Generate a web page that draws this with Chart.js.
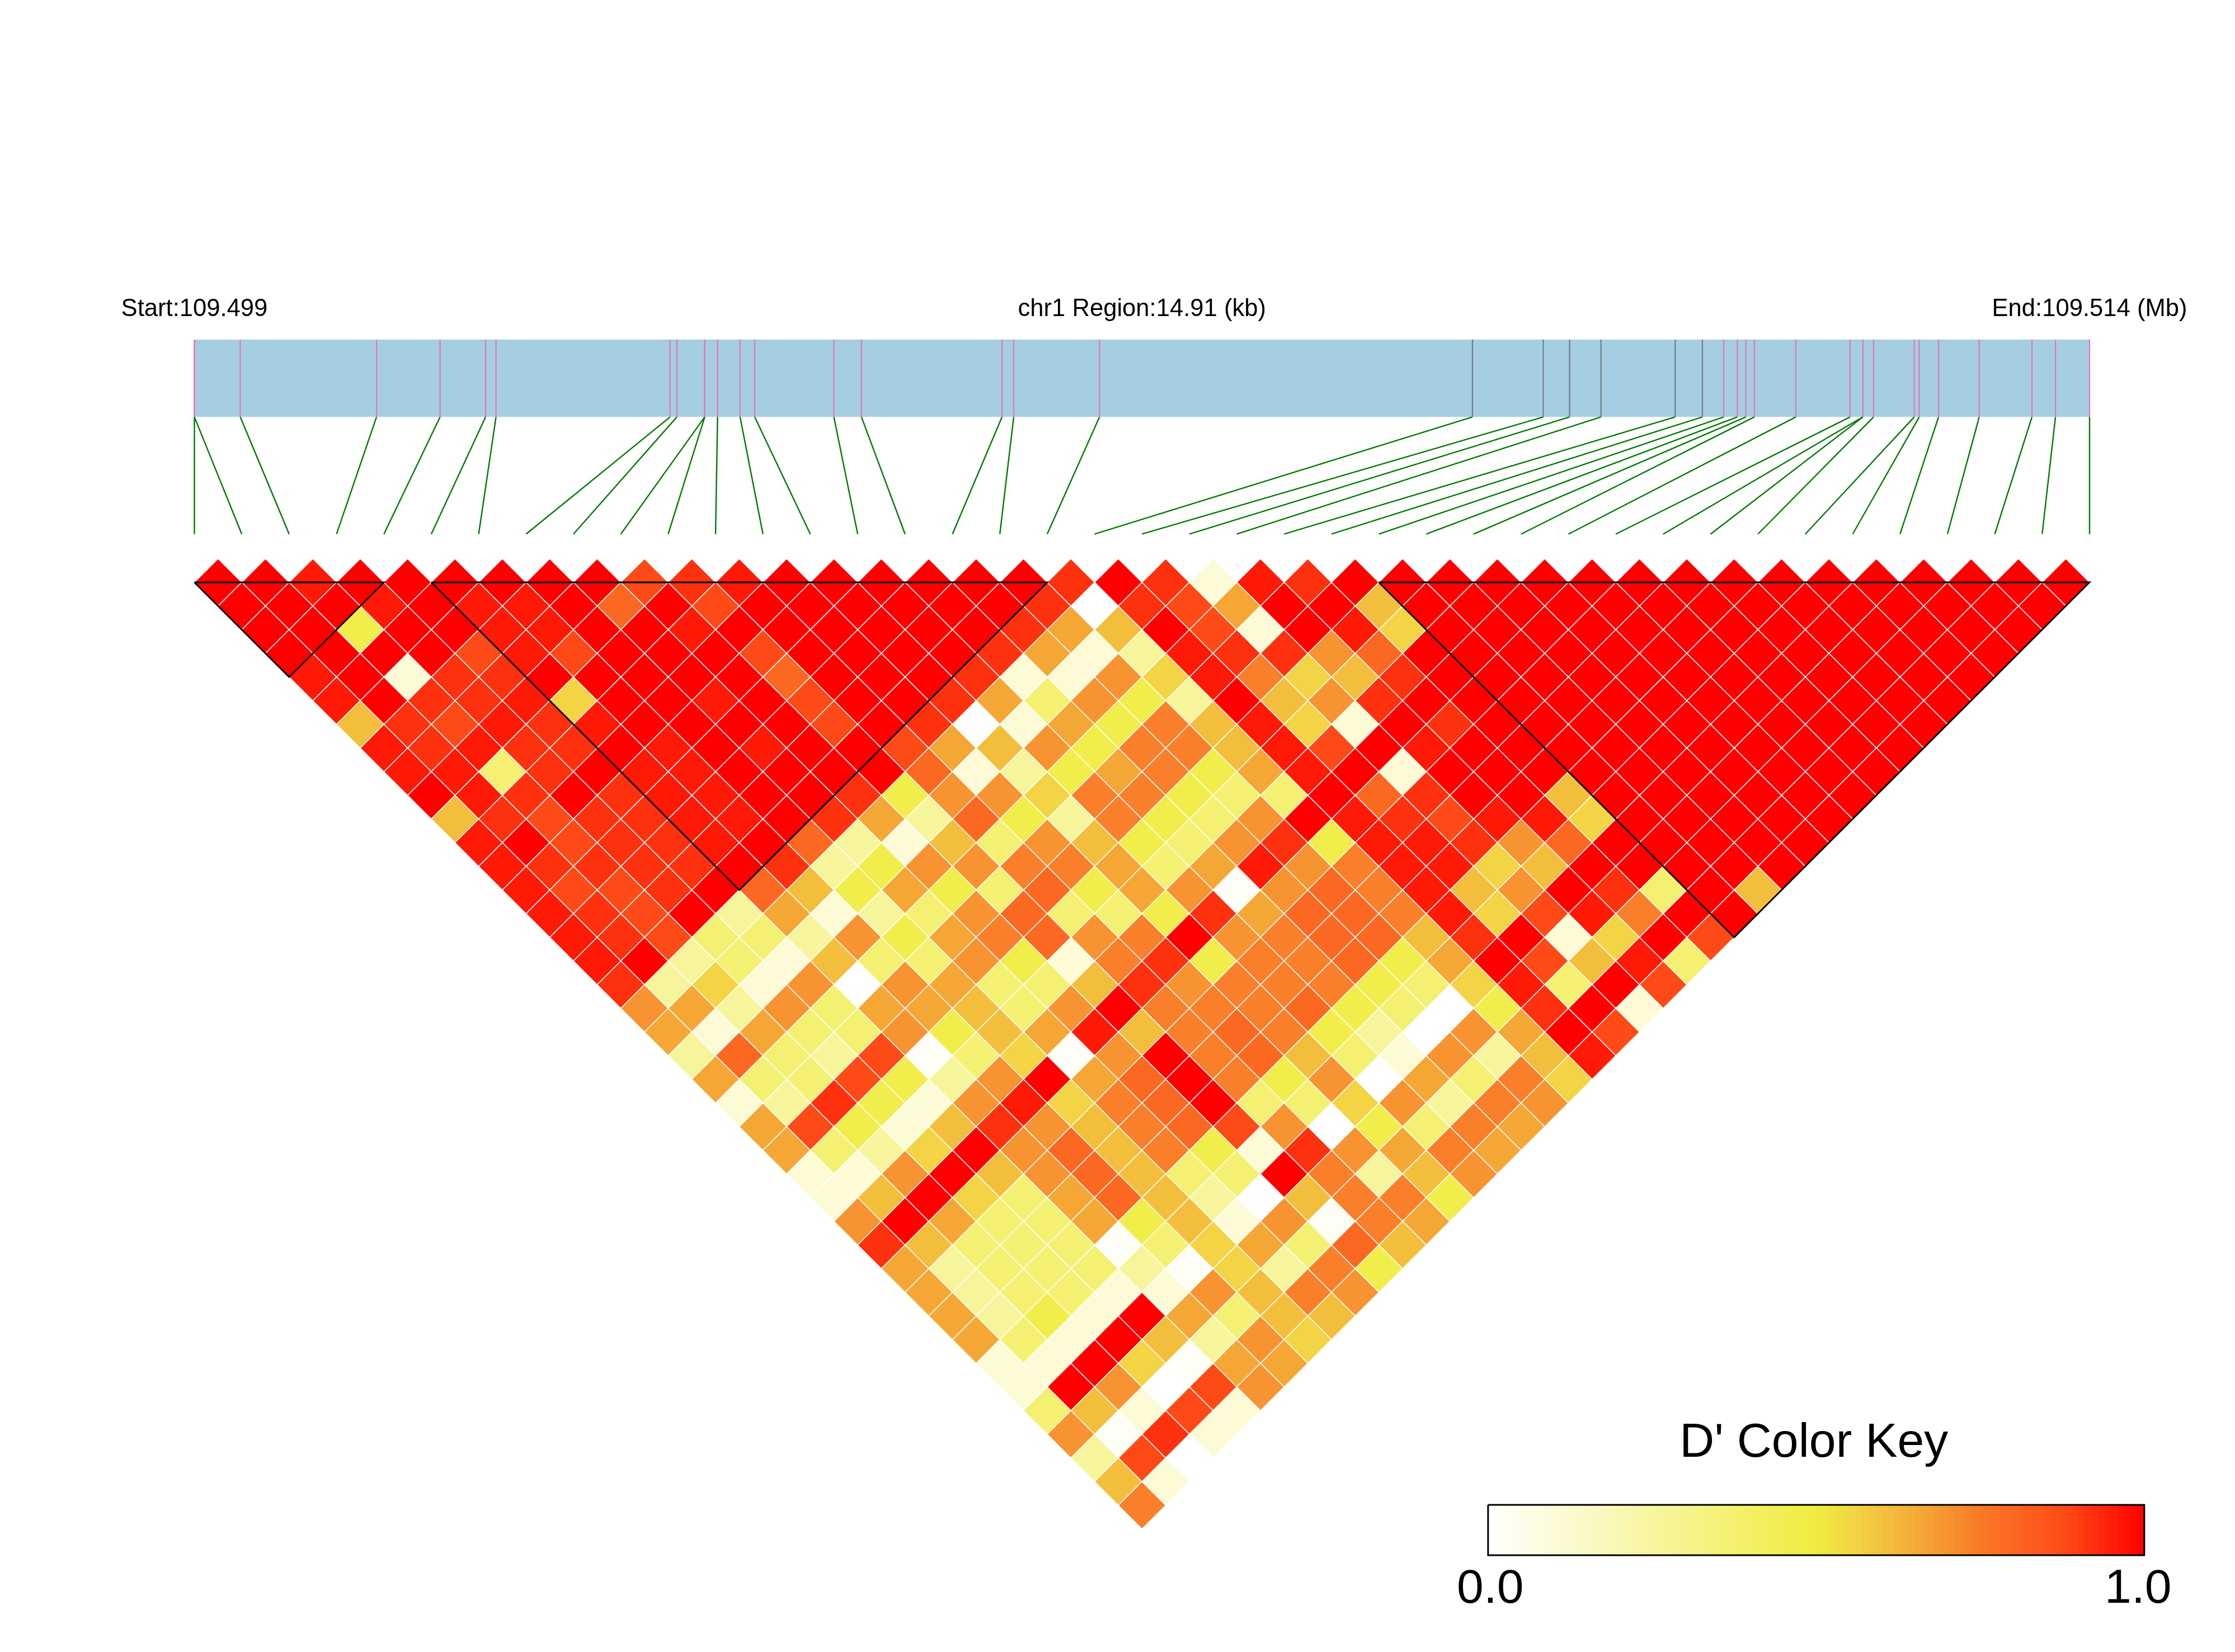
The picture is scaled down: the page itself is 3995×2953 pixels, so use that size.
<!DOCTYPE html>
<html>
<head>
<meta charset="utf-8">
<title>LD heatmap</title>
<script src="https://cdn.jsdelivr.net/npm/chart.js@4"></script>
<style>
    body { margin: 0; background: #fff; }
    canvas { display: block; }
</style>
</head>
<body>
<canvas id="ldChart" width="3995" height="2953"></canvas>
<script>
// snp positions in kb from the region start
const snpPositions = [0, 0, 0.361, 1.433, 1.933, 2.291, 2.373, 3.742, 3.796, 4.015, 4.015, 4.116, 4.293, 4.408,
    5.031, 5.248, 6.354, 6.446, 7.121, 10.055, 10.612, 10.819, 11.066, 11.65, 11.864, 12.032, 12.139, 12.206,
    12.273, 12.599, 13.026, 13.127, 13.127, 13.211, 13.531, 13.57, 13.722, 14.042, 14.457, 14.642, 14.91];
const regionLength = 14.91;
const graySnps = [19, 20, 21, 22, 23, 24];

// first and last snp of each haplotype block
const blockStart = [0, 5, 25];
const blockEnd = [4, 18, 40];

// D' values, one row per snp distance (row 0 = neighbours)
const dprime = [
    [1,1,.96,1,1,1,1,1,1,.88,.92,.96,1,1,1,1,1,1,.92,1,.92,.11,.96,.92,1,1,1,1,1,1,1,1,1,1,1,1,1,1,1,1],
    [1,1,1,.96,1,.96,.96,1,.8,1,.88,1,1,1,1,1,1,.92,0,.92,.88,.66,1,1,.61,1,1,1,1,1,1,1,1,1,1,1,1,1,1],
    [1,1,.47,1,1,.96,.96,1,1,.96,1,1,1,1,1,1,.92,.66,.61,1,.88,.11,1,.96,.56,1,1,1,1,1,1,1,1,1,1,1,1,1],
    [1,1,1,1,.88,.96,.88,1,1,1,.88,1,1,1,1,.92,.66,.11,.26,.96,.92,.92,.7,.8,1,1,1,1,1,1,1,1,1,1,1,1,1],
    [.96,1,.11,.92,.92,1,1,1,1,1,.8,1,1,1,.92,.11,.11,.7,.56,.96,.74,.56,.61,.92,1,1,1,1,1,1,1,1,1,1,1,1],
    [.96,1,.92,.92,.96,.56,1,1,.96,1,.88,1,1,.92,.66,.37,.7,.47,.26,1,.61,.7,.92,1,1,1,1,1,1,1,1,1,1,1,1],
    [.61,.92,.88,.96,.92,.96,1,1,1,1,.88,1,.92,0,.11,.66,.47,.74,.61,.96,.56,.11,1,.92,1,1,1,1,1,1,1,1,1,1],
    [.96,.92,.96,.92,.92,1,.96,1,.96,1,1,.88,.66,.61,.7,.47,.74,.74,.61,.96,.88,1,.96,1,1,1,1,1,1,1,1,1,1],
    [.96,.96,.37,.92,1,.96,.96,1,1,1,1,.8,.11,.26,.47,.66,.74,.47,.66,.96,1,.11,1,1,1,1,1,1,1,1,1,1],
    [1,.96,.92,1,.92,.96,.96,1,1,.92,.47,.7,.7,.56,.74,.74,.47,.37,.37,1,.8,.92,1,1,.61,1,1,1,1,1,1],
    [.61,.92,.88,.92,.92,.96,.96,1,.92,.66,.26,.8,.47,.26,.74,.47,.37,.7,1,.96,.92,.88,.96,.96,.56,1,1,1,1,1],
    [.96,1,.88,.92,.92,.96,1,.8,.26,.11,.61,.37,.7,.61,.47,.37,.7,.92,.47,.96,.96,.92,.7,.8,1,1,1,1,1],
    [.96,.92,.92,.92,.92,1,.92,.26,.47,.7,.7,.74,.74,.66,.37,.66,.96,.7,.74,.96,.96,.56,.61,1,1,1,1,1],
    [.96,.88,.88,.92,1,.8,.61,.47,.66,.47,.37,.8,.47,.66,.7,.02,.7,.8,.74,.96,.61,.7,1,.92,.37,1,.61],
    [.96,.92,.88,1,.26,.66,.11,.26,.37,.7,.8,.37,.37,.47,.92,.66,.8,.8,.74,.96,.56,.88,.96,.74,1,1],
    [.96,.92,.88,.37,.37,.26,.7,.47,.66,.74,.8,.7,.74,1,.7,.74,.8,.8,.61,.92,1,.11,.56,1,.88],
    [.96,1,.26,.37,.11,.61,.37,.37,.7,.47,.11,.74,.92,.47,.74,.74,.8,.47,.66,1,.88,.61,.96,.37],
    [.92,.26,.56,.11,.7,0,.7,.66,.37,.37,.61,.92,.7,.74,.74,.74,.47,.37,.56,.96,.37,1,.88],
    [.7,.66,.26,.7,.37,.66,.66,.61,.37,.7,1,.74,.74,.74,.8,.47,.37,0,.47,.92,1,.11],
    [.66,.11,.66,.37,.37,.7,.47,.61,.66,.96,.61,.74,.8,.74,.47,.26,0,.7,.66,1,.88],
    [.26,.8,.37,.26,.88,.02,.37,.56,.02,.7,1,.74,.8,.61,.37,.11,.7,.26,.61,.96],
    [.66,.37,.37,.88,.47,.26,.7,1,.66,.8,1,.74,.47,.7,0,.66,.37,.74,.56],
    [.11,.26,.92,.47,.11,.7,.96,.56,.74,.8,1,.37,.37,.56,.7,.26,.74,.7],
    [.66,.88,.47,.11,.61,.92,.7,.61,.74,.8,.88,.7,0,.47,.37,.74,.66],
    [.66,.37,.26,.56,1,.7,.8,.61,.74,.47,.11,.92,.7,.66,.74,.66],
    [.11,.11,.7,1,.61,.7,.8,.61,.37,.37,1,.74,.26,.61,.7],
    [.11,.61,1,.56,.37,.66,.8,.61,.26,0,.61,.74,.74,.47],
    [.7,1,.66,.37,.37,.66,.47,.61,.11,.7,.02,.74,.66],
    [.92,.61,.37,.37,.37,.02,.37,.56,.66,.37,.8,.61],
    [.66,.26,.37,.37,.37,.26,.02,.56,.26,.74,.47],
    [.66,.26,.37,.37,.11,.11,.7,.61,.74,.7],
    [.66,.26,.47,.11,1,.66,.37,.61,.61],
    [.66,.37,.11,1,.61,.26,.7,.56],
    [.11,.11,1,.56,.02,.66,.66],
    [.11,1,.7,0,.88,.7],
    [.37,.61,.11,.88,.11],
    [.7,.02,.92,.11],
    [.26,.88,0],
    [.61,.11],
    [.74]
];

// colour ramp of the key: value, r, g, b
const rampStops = [
    [0, 255, 255, 255],
    [0.5, 240, 236, 64],
    [0.56, 242, 212, 68],
    [0.66, 245, 167, 54],
    [0.75, 249, 122, 40],
    [0.88, 254, 74, 22],
    [1, 255, 0, 0]
];
const keyBands = 100;

// layout, x in snp spacings and y in heatmap rows
const xMin = -4.103, xMax = 43.07;
const yMin = -24.61, yMax = 45.2;
const cellRadius = 42.35;
const trackTop = -10.26, trackBottom = -6.99, linkBottom = -2.04;
const labelRow = -11.25;
const keyLeft = 27.305, keyRight = 41.155, keyTop = 38.98, keyBottom = 41.11;
const FONT = '"Liberation Sans", Arial, sans-serif';

function rampColor(v) {
    for (let k = 1; k < rampStops.length; k++) {
        const a = rampStops[k - 1], b = rampStops[k];
        if (v <= b[0]) {
            const t = (v - a[0]) / (b[0] - a[0]);
            return 'rgb(' + [1, 2, 3].map(c => Math.round(a[c] + (b[c] - a[c]) * t)).join(',') + ')';
        }
    }
    return 'rgb(255,0,0)';
}

function lineSet(points, color, width, order) {
    return {
        data: points,
        showLine: true,
        borderColor: color,
        borderWidth: width,
        pointRadius: 0,
        tension: 0,
        order: order
    };
}

function buildDatasets() {
    const sets = [];

    // heatmap cells
    const cells = [], cellColors = [];
    dprime.forEach((row, r) => {
        row.forEach((v, i) => {
            cells.push({ x: i + (r + 1) / 2, y: r });
            cellColors.push(rampColor(v));
        });
    });
    sets.push({
        data: cells,
        pointStyle: 'rectRot',
        pointRadius: cellRadius,
        pointBackgroundColor: cellColors,
        pointBorderColor: '#fff',
        pointBorderWidth: 1.5,
        order: 6
    });

    // haplotype blocks
    blockStart.forEach((s, b) => {
        const e = blockEnd[b];
        sets.push(lineSet([{ x: s, y: 0 }, { x: e, y: 0 }, { x: (s + e) / 2, y: e - s }, { x: s, y: 0 }], '#000', 2.8, 1));
    });

    // gene track
    const track = lineSet([
        { x: 0, y: trackTop }, { x: 40, y: trackTop }, { x: 40, y: trackBottom }, { x: 0, y: trackBottom }
    ], '#a6cee3', 0, 8);
    track.fill = 'shape';
    track.backgroundColor = '#a6cee3';
    sets.push(track);

    // snp ticks and links down to the heatmap
    snpPositions.forEach((pos, n) => {
        const xp = pos / regionLength * 40;
        const tick = graySnps.includes(n) ? '#757c80' : '#e377b2';
        sets.push(lineSet([{ x: xp, y: trackTop }, { x: xp, y: trackBottom }], tick, 2.2, 7));
        sets.push(lineSet([{ x: xp, y: trackBottom }, { x: n, y: linkBottom }], '#007a00', 2.4, 7));
    });

    // colour key
    const keyData = [], keyColors = [];
    const step = (keyRight - keyLeft) / keyBands;
    for (let k = 0; k < keyBands; k++) {
        keyData.push({ x: keyLeft + (k + 0.5) * step, y: [keyTop, keyBottom] });
        keyColors.push(rampColor((k + 0.5) / keyBands));
    }
    sets.push({
        type: 'bar',
        data: keyData,
        backgroundColor: keyColors,
        barThickness: step * 84.69 + 0.6,
        order: 3
    });
    sets.push(lineSet([
        { x: keyLeft, y: keyTop }, { x: keyRight, y: keyTop }, { x: keyRight, y: keyBottom },
        { x: keyLeft, y: keyBottom }, { x: keyLeft, y: keyTop }
    ], '#000', 3, 2));

    return sets;
}

const textLabels = {
    id: 'textLabels',
    afterDatasetsDraw(chart) {
        const { ctx, scales: { x, y } } = chart;
        ctx.save();
        ctx.fillStyle = '#000';
        ctx.textAlign = 'center';
        ctx.textBaseline = 'alphabetic';

        ctx.font = '43.6px ' + FONT;
        ctx.fillText('Start:109.499', x.getPixelForValue(0), y.getPixelForValue(labelRow));
        ctx.fillText('chr1 Region:14.91 (kb)', x.getPixelForValue(20), y.getPixelForValue(labelRow));
        ctx.fillText('End:109.514 (Mb)', x.getPixelForValue(40), y.getPixelForValue(labelRow));

        ctx.font = '86px ' + FONT;
        ctx.fillText("D' Color Key", x.getPixelForValue((keyLeft + keyRight) / 2) - 4, y.getPixelForValue(keyTop) - 86);
        ctx.fillText('0.0', x.getPixelForValue(keyLeft) + 4, y.getPixelForValue(keyBottom) + 85);
        ctx.fillText('1.0', x.getPixelForValue(keyRight) - 11, y.getPixelForValue(keyBottom) + 85);
        ctx.restore();
    }
};

new Chart(document.getElementById('ldChart'), {
    type: 'scatter',
    data: { datasets: buildDatasets() },
    options: {
        responsive: false,
        animation: false,
        devicePixelRatio: 1,
        layout: { padding: 0, autoPadding: false },
        events: [],
        plugins: {
            legend: { display: false },
            tooltip: { enabled: false }
        },
        scales: {
            x: { type: 'linear', display: false, offset: false, min: xMin, max: xMax },
            y: { type: 'linear', display: false, reverse: true, min: yMin, max: yMax }
        }
    },
    plugins: [textLabels]
});
</script>
</body>
</html>
